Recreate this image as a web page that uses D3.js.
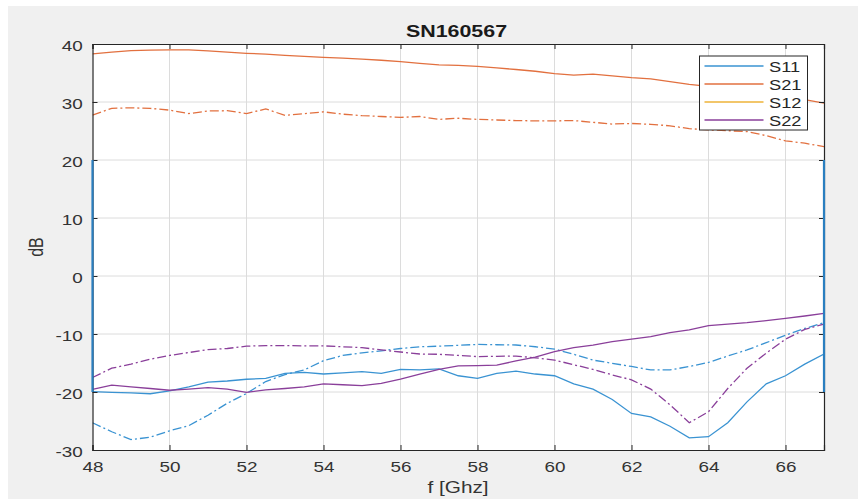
<!DOCTYPE html>
<html>
<head>
<meta charset="utf-8">
<script src="https://cdn.jsdelivr.net/npm/d3@7"></script>
<style>
  html, body { margin: 0; padding: 0; background: #ffffff; }
  svg { display: block; }
  text { font-family: "Liberation Sans", Arial, Helvetica, sans-serif; }
</style>
</head>
<body>
<svg id="chart" width="858" height="499"></svg>
<script>
// Frequency grid (GHz), 0.5 GHz step
const freq = [48, 48.5, 49, 49.5, 50, 50.5, 51, 51.5, 52, 52.5, 53, 53.5, 54, 54.5, 55, 55.5,
  56, 56.5, 57, 57.5, 58, 58.5, 59, 59.5, 60, 60.5, 61, 61.5, 62, 62.5, 63, 63.5, 64, 64.5,
  65, 65.5, 66, 66.5, 67];

// Measurement set A (solid)
const s11 = [-19.95, -20.05, -20.15, -20.3, -19.8, -19.1, -18.3, -18.1, -17.8, -17.65, -16.8, -16.6,
  -16.9, -16.7, -16.5, -16.8, -16.1, -16.2, -16.0, -17.2, -17.65, -16.8, -16.4, -16.9, -17.2, -18.6,
  -19.5, -21.3, -23.7, -24.3, -25.9, -27.9, -27.7, -25.3, -21.7, -18.6, -17.2, -15.2, -13.45];
const s21 = [38.3, 38.6, 38.85, 38.95, 39.0, 39.0, 38.8, 38.6, 38.4, 38.25, 38.05, 37.85, 37.7,
  37.55, 37.4, 37.2, 36.95, 36.65, 36.4, 36.3, 36.15, 35.9, 35.6, 35.3, 34.9, 34.65, 34.8, 34.5,
  34.2, 34.0, 33.5, 33.05, 32.7, 32.3, 31.8, 31.3, 30.8, 30.4, 29.8];
const s22 = [-19.55, -18.8, -19.1, -19.4, -19.7, -19.5, -19.25, -19.5, -20.05, -19.65, -19.4, -19.1,
  -18.6, -18.75, -18.9, -18.5, -17.8, -16.9, -16.1, -15.5, -15.45, -15.35, -14.65, -14.0, -13.05,
  -12.35, -11.9, -11.3, -10.9, -10.45, -9.75, -9.3, -8.55, -8.3, -8.05, -7.7, -7.3, -6.9, -6.45];

// Measurement set B (dash-dot)
const s11b = [-25.3, -26.85, -28.2, -27.8, -26.7, -25.8, -24.0, -21.95, -20.25, -18.2, -17.0, -16.2,
  -14.6, -13.7, -13.25, -12.9, -12.5, -12.2, -12.1, -11.95, -11.8, -11.85, -11.9, -12.2, -12.6,
  -13.5, -14.5, -15.05, -15.6, -16.2, -16.2, -15.6, -14.9, -13.8, -12.75, -11.5, -10.2, -9.05, -8.05];
const s21b = [27.75, 28.9, 29.0, 28.9, 28.6, 28.0, 28.45, 28.5, 28.0, 28.8, 27.7, 28.0, 28.3, 27.9,
  27.65, 27.5, 27.35, 27.5, 27.0, 27.2, 27.0, 26.9, 26.8, 26.75, 26.75, 26.8, 26.5, 26.2, 26.3,
  26.15, 25.9, 25.4, 25.2, 25.05, 24.9, 24.2, 23.3, 22.9, 22.3];
const s22b = [-17.5, -15.9, -15.2, -14.35, -13.7, -13.2, -12.7, -12.5, -12.1, -12.0, -12.0, -12.05,
  -12.05, -12.2, -12.35, -12.75, -13.1, -13.45, -13.5, -13.7, -13.9, -13.85, -13.8, -14.1, -14.5,
  -15.3, -16.1, -17.05, -17.9, -19.5, -22.2, -25.3, -23.4, -19.4, -15.9, -13.3, -10.9, -9.2, -8.3];

// Band-edge markers at the ends of the sweep
const edgeFreq = [48, 67];
const edgeLevels = [20, -20];

const xTicks = [48, 50, 52, 54, 56, 58, 60, 62, 64, 66];
const yTicks = [-30, -20, -10, 0, 10, 20, 30, 40];
const legendNames = ["S11", "S21", "S12", "S22"];

const colors = { S11: "#3a93d2", S21: "#e2703f", S12: "#f2c66a", S22: "#8a3f9a" };
const dashDot = "9,3,2,3";
const SX = 1.26; // horizontal glyph stretch used for all text

const svg = d3.select("#chart");
const W = 858, H = 499;

// figure background
svg.append("rect").attr("x", 8).attr("y", 6).attr("width", W - 8).attr("height", H - 6)
  .attr("fill", "#f0f0f0");

const m = { left: 92.5, right: 824, top: 44, bottom: 450 };
const x = d3.scaleLinear().domain([48, 67]).range([m.left, m.right]);
const y = d3.scaleLinear().domain([-30, 40]).range([m.bottom, m.top]);

// axes area
svg.append("rect").attr("x", m.left).attr("y", m.top)
  .attr("width", m.right - m.left).attr("height", m.bottom - m.top)
  .attr("fill", "#ffffff");

// grid
const grid = svg.append("g").attr("stroke", "#dcdcdc").attr("stroke-width", 1);
xTicks.filter(t => t > 48).forEach(t => {
  grid.append("line").attr("x1", x(t)).attr("x2", x(t)).attr("y1", m.top).attr("y2", m.bottom);
});
yTicks.filter(t => t > -30 && t < 40).forEach(t => {
  grid.append("line").attr("x1", m.left).attr("x2", m.right).attr("y1", y(t)).attr("y2", y(t));
});

// data lines
svg.append("clipPath").attr("id", "plotclip")
  .append("rect").attr("x", m.left).attr("y", m.top)
  .attr("width", m.right - m.left).attr("height", m.bottom - m.top);
const plot = svg.append("g").attr("clip-path", "url(#plotclip)");
const line = d3.line().x((d, i) => x(freq[i])).y(d => y(d));

const series = [
  { v: s11b, c: colors.S11, dash: dashDot },
  { v: s21b, c: colors.S21, dash: dashDot },
  { v: s22b, c: colors.S22, dash: dashDot },
  { v: s11, c: colors.S11, dash: null },
  { v: s21, c: colors.S21, dash: null },
  { v: s22, c: colors.S22, dash: null }
];
series.forEach(s => {
  plot.append("path").attr("d", line(s.v)).attr("fill", "none")
    .attr("stroke", s.c).attr("stroke-width", 1.3)
    .attr("stroke-dasharray", s.dash);
});

// axes frame with ticks on all sides (plain hyphen for negative labels)
const axisColor = "#262626";
const fmt = d => String(d);
const axB = svg.append("g").attr("transform", `translate(0,${m.bottom})`)
  .call(d3.axisBottom(x).tickValues(xTicks).tickSize(-5).tickFormat(fmt));
const axT = svg.append("g").attr("transform", `translate(0,${m.top})`)
  .call(d3.axisTop(x).tickValues(xTicks).tickSize(-5).tickFormat(""));
const axL = svg.append("g").attr("transform", `translate(${m.left},0)`)
  .call(d3.axisLeft(y).tickValues(yTicks).tickSize(-5).tickFormat(fmt));
const axR = svg.append("g").attr("transform", `translate(${m.right},0)`)
  .call(d3.axisRight(y).tickValues(yTicks).tickSize(-5).tickFormat(""));
[axB, axT, axL, axR].forEach(a => {
  a.select(".domain").attr("stroke", axisColor).attr("stroke-width", 1.2);
  a.selectAll(".tick line").attr("stroke", axisColor).attr("stroke-width", 1);
  a.selectAll(".tick text").attr("fill", "#333333").attr("font-size", 15)
    .attr("font-family", "'Liberation Sans', Arial, sans-serif");
});
axB.selectAll(".tick text").attr("y", 21.7).attr("dy", null)
  .attr("transform", `scale(${SX},1)`);
axL.selectAll(".tick text").attr("x", -9.8 / SX).attr("dy", "0.45em")
  .attr("transform", `scale(${SX},1)`);

// band-edge markers
edgeFreq.forEach(f => {
  svg.append("line").attr("x1", x(f)).attr("x2", x(f))
    .attr("y1", y(edgeLevels[0])).attr("y2", y(edgeLevels[1]))
    .attr("stroke", "#2a7fc0").attr("stroke-width", 2.2);
});

// title and axis labels
svg.append("text").attr("transform", `translate(456.5,36.5) scale(${SX},1)`)
  .attr("text-anchor", "middle")
  .attr("font-size", 17).attr("font-weight", "bold").attr("fill", "#1a1a1a").text("SN160567");
svg.append("text").attr("transform", `translate(458,493) scale(${SX},1)`)
  .attr("text-anchor", "middle")
  .attr("font-size", 16.5).attr("fill", "#333333").text("f [Ghz]");
svg.append("text").attr("transform", `translate(43,247) scale(${SX},1) rotate(-90)`)
  .attr("text-anchor", "middle").attr("font-size", 16).attr("fill", "#333333").text("dB");

// legend
const lg = svg.append("g").attr("transform", "translate(699.5,56)");
lg.append("rect").attr("width", 108).attr("height", 74).attr("fill", "#ffffff")
  .attr("stroke", "#262626").attr("stroke-width", 1);
legendNames.forEach((n, i) => {
  const yy = 10 + i * 18;
  lg.append("line").attr("x1", 5).attr("x2", 64).attr("y1", yy).attr("y2", yy)
    .attr("stroke", colors[n]).attr("stroke-width", n === "S12" ? 2 : 1.3);
  lg.append("text").attr("transform", `translate(69.5,${yy + 6.2}) scale(${SX},1)`)
    .attr("font-size", 14.5).attr("fill", "#262626").text(n);
});
</script>
</body>
</html>
